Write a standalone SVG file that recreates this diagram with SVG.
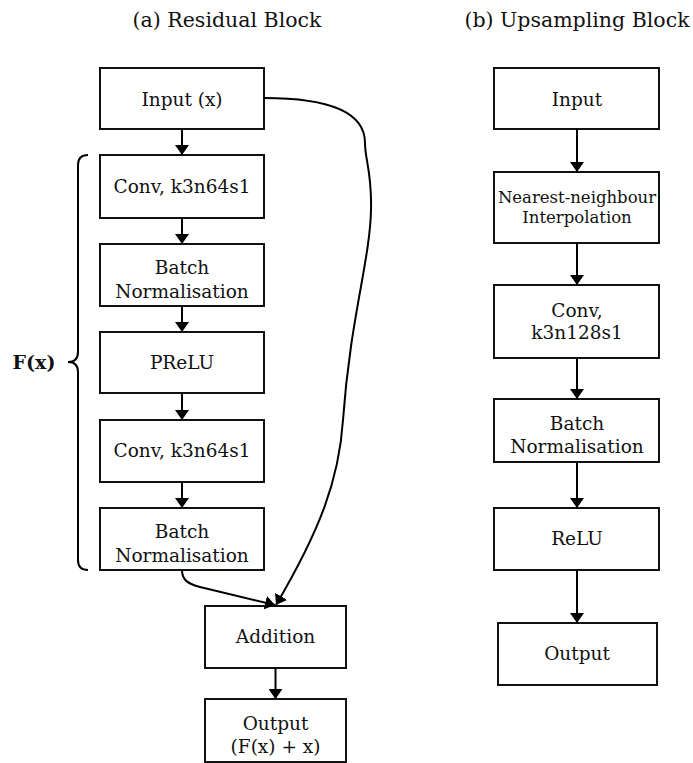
<svg xmlns="http://www.w3.org/2000/svg" width="693" height="763" viewBox="0 0 693 763">
<defs>
<marker id="ah" viewBox="0 0 10 14" refX="10" refY="7" markerWidth="10" markerHeight="14" markerUnits="userSpaceOnUse" orient="auto">
<path d="M0,0 L10,7 L0,14 z" fill="#000"/>
</marker>
<style>
rect{fill:#fff;stroke:#111;stroke-width:2}
text{font-family:"DejaVu Serif","Liberation Serif",serif;font-size:18.5px;fill:#111;text-anchor:middle}
.t{font-size:20.5px}
.s{font-size:16.5px}
.b{font-weight:bold;font-size:19px}
.c{fill:none;stroke:#000;stroke-width:2}
</style>
</defs>
<text class="t" x="227" y="27">(a) Residual Block</text>
<text class="t" x="577" y="27">(b) Upsampling Block</text>
<g id="a_input"><rect x="100" y="68" width="164" height="61"/><text x="182" y="106">Input (x)</text></g>
<g id="a_conv1"><rect x="100" y="155" width="164" height="63"/><text x="182" y="193">Conv, k3n64s1</text></g>
<g id="a_bn1"><rect x="100" y="244" width="164" height="62"/><text x="182" y="274">Batch</text><text x="182" y="298">Normalisation</text></g>
<g id="a_prelu"><rect x="100" y="332" width="164" height="61"/><text x="182" y="369">PReLU</text></g>
<g id="a_conv2"><rect x="100" y="420" width="164" height="62"/><text x="182" y="457">Conv, k3n64s1</text></g>
<g id="a_bn2"><rect x="100" y="508" width="164" height="62"/><text x="182" y="538">Batch</text><text x="182" y="562">Normalisation</text></g>
<g id="a_add"><rect x="205" y="606" width="141" height="62"/><text x="275.500" y="643">Addition</text></g>
<g id="a_out"><rect x="205" y="699" width="141" height="63"/><text x="275.500" y="730">Output</text><text x="275.500" y="753">(F(x) + x)</text></g>
<g id="a_brace"><path class="c" d="M88,155 Q78,155 78,165 L78,352 Q78,362 68,362 Q78,362 78,372 L78,560 Q78,570 88,570"/><text class="b" x="34" y="369">F(x)</text></g>
<g id="b_input"><rect x="494" y="68" width="165" height="61"/><text x="577" y="106">Input</text></g>
<g id="b_nn"><rect x="494" y="172" width="165" height="71"/><text class="s" x="577" y="203">Nearest-neighbour</text><text class="s" x="577" y="223">Interpolation</text></g>
<g id="b_conv"><rect x="494" y="285" width="165" height="73"/><text x="577" y="317">Conv,</text><text x="577" y="339">k3n128s1</text></g>
<g id="b_bn"><rect x="494" y="399" width="165" height="63"/><text x="577" y="430">Batch</text><text x="577" y="453">Normalisation</text></g>
<g id="b_relu"><rect x="494" y="508" width="165" height="62"/><text x="577" y="545">ReLU</text></g>
<g id="b_out"><rect x="498" y="623" width="159" height="62"/><text x="577" y="660">Output</text></g>
<g id="connectors">
<path class="c" marker-end="url(#ah)" d="M182,129 L182,155"/>
<path class="c" marker-end="url(#ah)" d="M182,218 L182,244"/>
<path class="c" marker-end="url(#ah)" d="M182,306 L182,332"/>
<path class="c" marker-end="url(#ah)" d="M182,393 L182,420"/>
<path class="c" marker-end="url(#ah)" d="M182,482 L182,508"/>
<path class="c" marker-end="url(#ah)" d="M182,570 C182,580 188,584 200,587 L275,605"/>
<path class="c" marker-end="url(#ah)" d="M264,98 C330,98 365,112 365,143 C365,160 372,172 371,210 C370,260 350,320 343,420 C339,480 320,530 276,605"/>
<path class="c" marker-end="url(#ah)" d="M275.500,668 L275.500,699"/>
<path class="c" marker-end="url(#ah)" d="M577,129 L577,172"/>
<path class="c" marker-end="url(#ah)" d="M577,243 L577,285"/>
<path class="c" marker-end="url(#ah)" d="M577,358 L577,399"/>
<path class="c" marker-end="url(#ah)" d="M577,462 L577,508"/>
<path class="c" marker-end="url(#ah)" d="M577,570 L577,623"/>
</g>
</svg>
